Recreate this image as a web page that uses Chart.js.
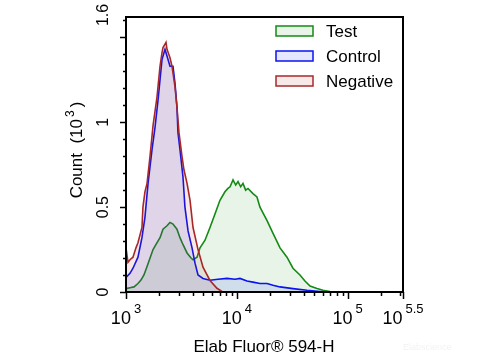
<!DOCTYPE html>
<html>
<head>
<meta charset="utf-8">
<script src="https://cdn.jsdelivr.net/npm/chart.js@4"></script>
<style>
  html, body { margin: 0; padding: 0; background: #fff; }
  #wrap { width: 480px; height: 360px; }
</style>
</head>
<body>
<div id="wrap"><canvas id="histChart" width="480" height="360"></canvas></div>
<script>
// Flow histogram - x values are log10 of fluorescence, y values are counts in thousands

const seriesNames = ['Test', 'Control', 'Negative'];

const testX = [3.000, 3.036, 3.072, 3.108, 3.135, 3.162, 3.190, 3.217, 3.244, 3.271, 3.307, 3.334, 3.370, 3.397,
  3.424, 3.460, 3.487, 3.514, 3.551, 3.587, 3.605, 3.641, 3.668, 3.713, 3.758, 3.803, 3.848, 3.893, 3.920, 3.939, 3.966,
  3.990, 4.011, 4.035, 4.056, 4.080, 4.101, 4.146, 4.182, 4.209, 4.273, 4.327, 4.390, 4.453, 4.507, 4.570, 4.615, 4.661,
  4.724, 4.778, 4.841, 4.895];
const testY = [0.02, 0.025, 0.03, 0.05, 0.07, 0.10, 0.15, 0.20, 0.25, 0.28, 0.32, 0.37, 0.39, 0.41,
  0.40, 0.37, 0.32, 0.28, 0.23, 0.20, 0.19, 0.205, 0.26, 0.305, 0.38, 0.46, 0.54, 0.59, 0.61, 0.62, 0.66,
  0.63, 0.65, 0.62, 0.64, 0.60, 0.61, 0.58, 0.56, 0.50, 0.42, 0.345, 0.26, 0.205, 0.14, 0.10, 0.065, 0.035,
  0.02, 0.01, 0.003, 0];

const controlX = [3.000, 3.036, 3.063, 3.108, 3.144, 3.171, 3.199, 3.217, 3.235, 3.262, 3.289, 3.325, 3.352, 3.370,
  3.397, 3.424, 3.442, 3.460, 3.469, 3.487, 3.514, 3.532, 3.560, 3.596, 3.623, 3.650, 3.695, 3.758, 3.830, 3.912,
  3.984, 4.029, 4.092, 4.146, 4.209, 4.273, 4.327, 4.390, 4.507, 4.634, 4.751, 4.814];
const controlY = [0.086, 0.11, 0.14, 0.205, 0.32, 0.44, 0.64, 0.74, 0.84, 0.97, 1.13, 1.37, 1.43, 1.39,
  1.33, 1.33, 1.23, 1.09, 0.94, 0.84, 0.68, 0.50, 0.36, 0.26, 0.17, 0.10, 0.08, 0.069, 0.075, 0.08,
  0.075, 0.08, 0.065, 0.058, 0.05, 0.05, 0.04, 0.03, 0.02, 0.01, 0.003, 0];

const negativeX = [3.000, 3.018, 3.036, 3.063, 3.090, 3.108, 3.144, 3.153, 3.171, 3.190, 3.217, 3.244, 3.280, 3.307,
  3.325, 3.334, 3.361, 3.370, 3.397, 3.415, 3.442, 3.460, 3.478, 3.505, 3.523, 3.551, 3.578, 3.605, 3.650, 3.695,
  3.758, 3.821, 3.866, 3.921];
const negativeY = [0.26, 0.175, 0.19, 0.205, 0.26, 0.29, 0.38, 0.50, 0.59, 0.64, 0.80, 0.98, 1.15, 1.33,
  1.41, 1.44, 1.47, 1.43, 1.38, 1.33, 1.21, 1.09, 0.94, 0.80, 0.72, 0.64, 0.54, 0.38, 0.25, 0.146,
  0.068, 0.022, 0.003, 0];

// axis ticks
const xMajorExp = [3, 4, 5, 5.5];
const xMajorLabels = ['3', '4', '5', '5.5'];
const yMajorValues = [0, 0.5, 1, 1.5];
const yLabelValues = [0, 0.5, 1, 1.62];
const yLabelTexts = ['0', '0.5', '1', '1.6'];
const yMax = 1.62;

const lineColors = ['#148a14', '#0a14f0', '#a8282a'];
const fillColors = ['rgba(20, 150, 20, 0.10)', 'rgba(30, 60, 255, 0.12)', 'rgba(190, 40, 40, 0.10)'];

function toPoints(xs, ys) {
    return xs.map((x, i) => ({ x: x, y: ys[i] }));
}

const FONT = '"Liberation Sans", Arial, sans-serif';

const flowAxesPlugin = {
    id: 'flowAxes',
    afterDraw(chart) {
        const { ctx, chartArea: a, scales: { x, y } } = chart;
        ctx.save();
        ctx.strokeStyle = '#000';
        ctx.fillStyle = '#000';
        ctx.lineWidth = 2;
        ctx.strokeRect(a.left, a.top, a.right - a.left, a.bottom - a.top);

        // y ticks every 0.1
        ctx.lineWidth = 1.5;
        for (let i = 0; i <= 16; i++) {
            const v = i / 10;
            const py = Math.round(y.getPixelForValue(v)) + 0.5;
            const major = yMajorValues.some(m => Math.abs(m - v) < 1e-6);
            ctx.beginPath();
            ctx.moveTo(a.left, py);
            ctx.lineTo(a.left - (major ? 6 : 3), py);
            ctx.stroke();
        }

        // x ticks: decades and log minor ticks
        for (let d = 3; d <= 5; d++) {
            for (let k = 1; k <= 9; k++) {
                const e = d + Math.log10(k);
                if (e > 5.5 + 1e-6) break;
                const px = Math.round(x.getPixelForValue(e)) + 0.5;
                ctx.beginPath();
                ctx.moveTo(px, a.bottom);
                ctx.lineTo(px, a.bottom + (k === 1 ? 7 : 4));
                ctx.stroke();
            }
        }
        const pEnd = Math.round(x.getPixelForValue(5.5)) + 0.5;
        ctx.beginPath();
        ctx.moveTo(pEnd, a.bottom);
        ctx.lineTo(pEnd, a.bottom + 7);
        ctx.stroke();

        // y tick labels (rotated)
        ctx.font = '16px ' + FONT;
        ctx.textAlign = 'center';
        ctx.textBaseline = 'middle';
        yLabelValues.forEach((v, i) => {
            ctx.save();
            ctx.translate(104, y.getPixelForValue(v) - (i === 3 ? 2 : 0));
            ctx.rotate(-Math.PI / 2);
            ctx.fillText(yLabelTexts[i], 0, 0);
            ctx.restore();
        });

        // x tick labels: 10 with superscript exponent
        xMajorExp.forEach((e, i) => {
            const px = x.getPixelForValue(e);
            ctx.font = '18px ' + FONT;
            const wBase = ctx.measureText('10').width;
            ctx.font = '13px ' + FONT;
            const wSup = ctx.measureText(xMajorLabels[i]).width;
            const left = px - (wBase + 3 + wSup) / 2;
            ctx.textAlign = 'left';
            ctx.textBaseline = 'alphabetic';
            ctx.font = '18px ' + FONT;
            ctx.fillText('10', left, 324);
            ctx.font = '13px ' + FONT;
            ctx.fillText(xMajorLabels[i], left + wBase + 3, 313);
        });

        // axis titles
        ctx.font = '17px ' + FONT;
        ctx.textAlign = 'center';
        ctx.textBaseline = 'middle';
        ctx.fillText('Elab Fluor\u00AE 594-H', 264, 347);

        ctx.save();
        ctx.translate(76, 150);
        ctx.rotate(-Math.PI / 2);
        ctx.textAlign = 'left';
        ctx.textBaseline = 'alphabetic';
        ctx.font = '17px ' + FONT;
        const p1 = 'Count  (10';
        const w1 = ctx.measureText(p1).width;
        ctx.font = '12px ' + FONT;
        const w2 = ctx.measureText('3').width;
        ctx.font = '17px ' + FONT;
        const w3 = ctx.measureText(')').width;
        const total = w1 + 2 + w2 + 3 + w3;
        let cx = -total / 2;
        ctx.fillText(p1, cx, 6);
        cx += w1 + 2;
        ctx.font = '12px ' + FONT;
        ctx.fillText('3', cx, -2);
        cx += w2 + 3;
        ctx.font = '17px ' + FONT;
        ctx.fillText(')', cx, 6);
        ctx.restore();

        // legend
        ctx.font = '17px ' + FONT;
        ctx.textAlign = 'left';
        ctx.textBaseline = 'middle';
        seriesNames.forEach((name, i) => {
            const cy = 31 + i * 25;
            ctx.fillStyle = '#fff';
            ctx.fillRect(276, cy - 5, 37, 10);
            ctx.fillStyle = fillColors[i];
            ctx.fillRect(276, cy - 5, 37, 10);
            ctx.strokeStyle = lineColors[i];
            ctx.lineWidth = 1.5;
            ctx.strokeRect(276, cy - 5, 37, 10);
            ctx.fillStyle = '#000';
            ctx.fillText(name, 326, cy + 1);
        });

        // faint watermark
        ctx.font = '9px ' + FONT;
        ctx.fillStyle = 'rgba(0,0,0,0.06)';
        ctx.textAlign = 'left';
        ctx.fillText('Elabscience', 403, 348);

        ctx.restore();
    }
};

const ctx = document.getElementById('histChart').getContext('2d');

new Chart(ctx, {
    type: 'scatter',
    data: {
        datasets: [
            { label: seriesNames[0], data: toPoints(testX, testY), order: 3 },
            { label: seriesNames[1], data: toPoints(controlX, controlY), order: 2 },
            { label: seriesNames[2], data: toPoints(negativeX, negativeY), order: 1 }
        ].map((ds, i) => Object.assign(ds, {
            showLine: true,
            borderColor: lineColors[i],
            backgroundColor: fillColors[i],
            borderWidth: 1.6,
            pointRadius: 0,
            tension: 0,
            fill: 'origin'
        }))
    },
    options: {
        responsive: false,
        animation: false,
        layout: {
            padding: { left: 126, right: 77, top: 17, bottom: 68 }
        },
        plugins: {
            legend: { display: false },
            tooltip: { enabled: false }
        },
        scales: {
            x: { type: 'linear', min: 3, max: 5.5, display: false },
            y: { type: 'linear', min: 0, max: yMax, display: false }
        }
    },
    plugins: [flowAxesPlugin]
});
</script>
</body>
</html>
